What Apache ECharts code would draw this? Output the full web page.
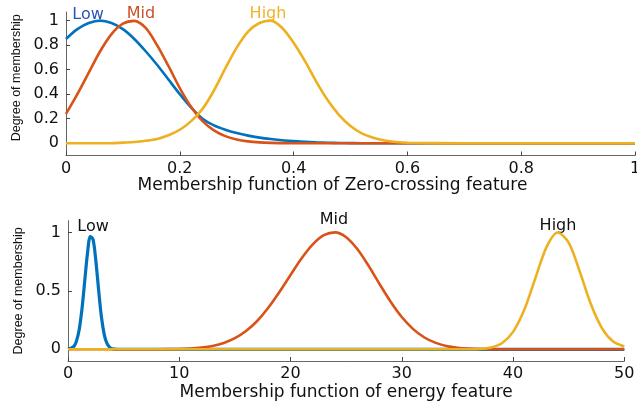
<!DOCTYPE html>
<html><head><meta charset="utf-8">
<script src="https://cdn.jsdelivr.net/npm/echarts@6/dist/echarts.min.js"></script>
<style>html,body{margin:0;padding:0;background:#fff}#c{width:637px;height:408px}</style>
</head><body><div id="c"></div><script>
// ---- Top chart: Zero-crossing feature ----
const topX = [0,0.02,0.04,0.06,0.08,0.1,0.12,0.14,0.16,0.18,0.2,0.22,0.24,0.26,0.28,0.3,0.32,0.34,0.36,0.38,0.4,0.42,0.44,0.46,0.48,0.5,0.52,0.54,0.56,0.58,0.6,0.7,0.8,0.9,1];
const zcLow  = [0.85,0.93,0.98,1.0,0.98,0.93,0.85,0.75,0.64,0.52,0.40,0.29,0.20,0.145,0.11,0.083,0.062,0.046,0.034,0.024,0.017,0.011,0.007,0.004,0.002,0.001,0,0,0,0,0,0,0,0,0];
const zcMid  = [0.24,0.40,0.575,0.75,0.89,0.975,0.998,0.94,0.80,0.63,0.45,0.295,0.18,0.105,0.058,0.03,0.015,0.007,0.003,0.001,0,0,0,0,0,0,0,0,0,0,0,0,0,0,0];
const zcHigh = [0,0,0,0,0,0.005,0.01,0.02,0.035,0.065,0.11,0.18,0.28,0.43,0.61,0.78,0.91,0.98,1.0,0.94,0.82,0.67,0.50,0.35,0.23,0.14,0.08,0.045,0.022,0.01,0.004,0,0,0,0];
const topYTicks = [0,0.2,0.4,0.6,0.8,1];

// ---- Bottom chart: energy feature ----
const enLowX  = [0,0.5,0.75,1,1.25,1.5,1.75,2,2.25,2.5,2.75,3,3.25,3.5,3.75,4,4.5,10,20,30,40,50];
const enLowY  = [0.001,0.022,0.067,0.165,0.34,0.58,0.82,0.965,0.94,0.76,0.51,0.28,0.13,0.05,0.017,0.004,0,0,0,0,0,0];
const enMidX  = [0,5,8,10,11,12,13,14,15,16,17,18,19,20,21,22,23,24,25,26,27,28,29,30,31,32,33,34,35,36,37,38,40,45,50];
const enMidY  = [0,0,0.0005,0.003,0.007,0.015,0.029,0.054,0.095,0.156,0.242,0.355,0.49,0.636,0.779,0.898,0.976,1.0,0.959,0.858,0.717,0.559,0.407,0.276,0.175,0.103,0.057,0.029,0.014,0.006,0.002,0.001,0,0,0];
const enHighX = [0,10,20,30,35,37,38,39,40,41,42,43,44,45,46,47,48,49,50];
const enHighY = [0,0,0,0,0,0.003,0.015,0.052,0.149,0.336,0.607,0.872,0.999,0.912,0.664,0.385,0.179,0.066,0.025];
const botYTicks = [0,0.5,1];

const C_LOW = '#0072BD', C_MID = '#D95319', C_HIGH = '#EDB120';
const FONT = 'DejaVu Sans';
const pair = (xs, ys) => xs.map((x, i) => [x, ys[i]]);
const fmt = v => String(+(+v).toFixed(2));

function xAxisCfg(grid, min, max, interval, name, gap, pad) {
  return {
    gridIndex: grid, type: 'value', min, max, interval,
    name, nameLocation: 'middle', nameGap: gap,
    nameTextStyle: { fontFamily: FONT, fontSize: 17, color: '#111', padding: pad },
    axisLine: { onZero: false, lineStyle: { color: '#666', width: 1 } },
    axisTick: { inside: true, length: 4, lineStyle: { color: '#444' } },
    axisLabel: { fontFamily: FONT, fontSize: 16, color: '#111', margin: 5, formatter: fmt },
    splitLine: { show: false }
  };
}
function yAxisCfg(grid, min, max, ticks, gap, pad) {
  return {
    gridIndex: grid, type: 'value', min, max,
    name: 'Degree of membership', nameLocation: 'middle', nameRotate: 90, nameGap: gap,
    nameTextStyle: { fontFamily: '"Liberation Sans", Arial', fontSize: 12.5, color: '#111', padding: pad },
    axisLine: { show: true, lineStyle: { color: '#666', width: 1 } },
    axisTick: { show: true, inside: true, length: 4, customValues: ticks, lineStyle: { color: '#444' } },
    axisLabel: { fontFamily: FONT, fontSize: 16, color: '#111', margin: 7, customValues: ticks, formatter: fmt },
    splitLine: { show: false }
  };
}
function line(name, xi, data, color, w) {
  return {
    name, type: 'line', xAxisIndex: xi, yAxisIndex: xi, data, smooth: 0.3,
    showSymbol: false, symbol: 'none', silent: true,
    lineStyle: { color, width: w }, itemStyle: { color }
  };
}
function label(text, x, y, fill) {
  return { type: 'text', x, y, style: { text, fill, font: '16px "DejaVu Sans"', align: 'center', verticalAlign: 'middle', textAlign: 'center', textVerticalAlign: 'middle' } };
}

const chart = echarts.init(document.getElementById('c'), null, { renderer: 'canvas' });
chart.setOption({
  animation: false,
  backgroundColor: '#fff',
  grid: [
    { left: 66, right: 2, top: 12, bottom: 252.5, outerBoundsMode: 'none', containLabel: false },
    { left: 68, right: 12.7, top: 220.7, bottom: 47, outerBoundsMode: 'none', containLabel: false }
  ],
  xAxis: [
    xAxisCfg(0, 0, 1, 0.2, 'Membership function of Zero-crossing feature', 21, [0, 36, 0, 0]),
    xAxisCfg(1, 0, 50, 10, 'Membership function of energy feature', 23, [0, 0, 0, 0])
  ],
  yAxis: [
    yAxisCfg(0, -0.1, 1.07, topYTicks, 41, [0, 0, 0, 12]),
    yAxisCfg(1, -0.1, 1.1, botYTicks, 43, [0, 0, 0, 0])
  ],
  series: [
    line('Low', 0, pair(topX, zcLow), C_LOW, 2.6),
    line('Mid', 0, pair(topX, zcMid), C_MID, 2.6),
    line('High', 0, pair(topX, zcHigh), C_HIGH, 2.6),
    line('Low', 1, pair(enLowX, enLowY), C_LOW, 3.2),
    line('Mid', 1, pair(enMidX, enMidY), C_MID, 2.6),
    line('High', 1, pair(enHighX, enHighY), C_HIGH, 2.6)
  ],
  graphic: [
    label('Low', 88, 15, '#2a55b5'),
    label('Mid', 141, 14, '#c8522a'),
    label('High', 268, 14, '#f0b32c'),
    label('Low', 93, 227, '#111'),
    label('Mid', 334, 220, '#111'),
    label('High', 558, 226, '#111')
  ]
});
</script></body></html>
